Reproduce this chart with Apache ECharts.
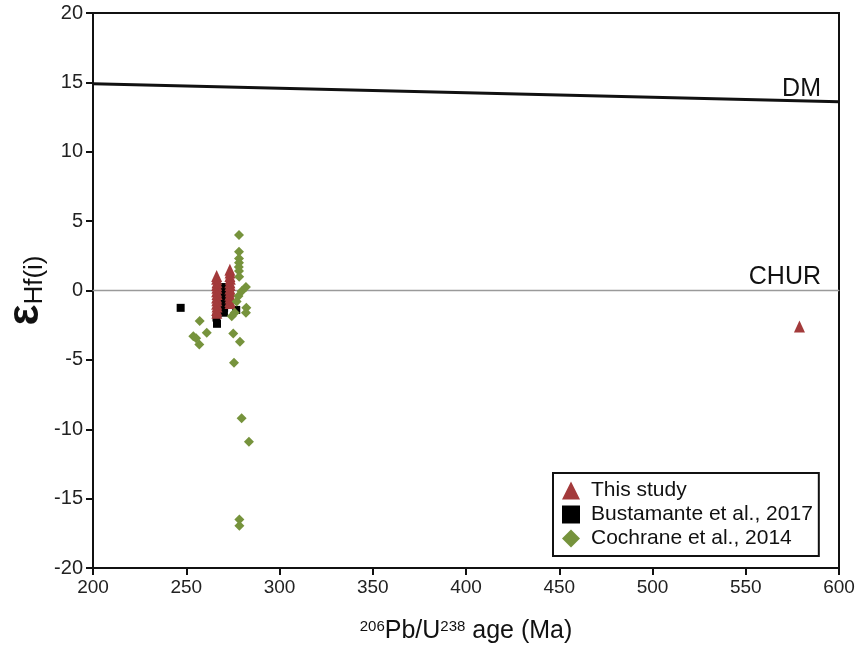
<!DOCTYPE html>
<html>
<head>
<meta charset="utf-8">
<script src="https://cdn.jsdelivr.net/npm/echarts@6/dist/echarts.min.js"></script>
<style>
html,body{margin:0;padding:0;background:#fff;}
#chart{width:858px;height:646px;}
</style>
</head>
<body>
<div id="chart"></div>
<script>
// ---- data ----
const seriesNames = ['This study', 'Bustamante et al., 2017', 'Cochrane et al., 2014'];

const thisStudy = [
  [266.3, 1.05], [266.3, 0.85], [266.5, 0.6], [266.3, 0.4], [266.4, 0.2], [266.3, -0.05],
  [266.5, -0.25], [266.3, -0.5], [266.4, -0.7], [266.3, -0.95], [266.5, -1.15], [266.3, -1.4], [266.4, -1.6],
  [273.4, 1.5], [273.5, 1.3], [273.4, 1.05], [273.6, 0.85], [273.4, 0.6], [273.5, 0.4], [273.4, 0.15],
  [273.6, -0.05], [273.4, -0.3], [273.5, -0.5], [273.4, -0.75], [273.5, -0.9],
  [578.8, -2.6]
];

const bustamante = [
  [247.0, -1.25], [266.5, -2.4], [266.2, -1.95], [266.8, -1.5],
  [270.0, 0.25], [270.0, -0.3], [270.1, -0.8], [270.3, -1.25], [270.2, -1.6],
  [276.8, -1.4]
];

const cochrane = [
  [278.3, 4.0], [278.3, 2.8], [278.3, 2.3], [278.3, 2.0], [278.2, 1.7], [278.3, 1.4], [278.4, 1.0],
  [282.0, 0.25], [279.7, -0.05], [278.0, -0.4], [277.0, -0.8], [282.2, -1.25], [282.0, -1.6],
  [274.4, -1.85], [276.0, -1.6],
  [257.2, -2.2], [261.0, -3.05], [253.8, -3.3], [255.3, -3.45], [257.0, -3.9],
  [275.2, -3.1], [278.8, -3.7], [275.6, -5.2], [279.7, -9.2], [283.6, -10.9],
  [278.5, -16.5], [278.5, -16.95]
];

const dmLine = [[200, 14.9], [600, 13.6]];
const churLine = [[200, 0], [600, 0]];
const refLabels = ['DM', 'CHUR'];

const xMin = 200, xMax = 600, xStep = 50;
const yMin = -20, yMax = 20, yStep = 5;

// ---- chart ----
const chart = echarts.init(document.getElementById('chart'), null, {renderer: 'canvas'});
const FONT = 'Liberation Sans, Arial, sans-serif';

function lineWithEndLabel(data, text, offset) {
  return data.map((p, i) => {
    if (i === data.length - 1) {
      return {
        value: p,
        label: {
          show: true, formatter: text, position: 'top', align: 'right',
          offset: offset, distance: 0,
          color: '#111', fontSize: 25, fontFamily: FONT
        }
      };
    }
    return {value: p};
  });
}

const option = {
  backgroundColor: '#fff',
  animation: false,
  grid: {
    left: 93, top: 13, width: 746, height: 555,
    containLabel: false, outerBoundsMode: 'none',
    show: true, borderColor: '#111', borderWidth: 2, backgroundColor: 'transparent'
  },
  legend: {
    data: seriesNames,
    orient: 'vertical',
    left: 553, top: 473,
    backgroundColor: '#fff',
    borderColor: '#111', borderWidth: 2,
    padding: [7, 6, 7, 9],
    itemWidth: 18, itemHeight: 18, itemGap: 3,
    textStyle: {color: '#111', fontSize: 21, fontFamily: FONT, padding: [0, 0, 0, 6]}
  },
  xAxis: {
    type: 'value', min: xMin, max: xMax, interval: xStep,
    name: '{sup|206}{n|Pb/U}{sup|238}{n| age (Ma)}',
    nameLocation: 'middle', nameGap: 51, nameMoveOverlap: false,
    nameTextStyle: {
      rich: {
        n: {fontSize: 25, fontFamily: FONT, color: '#111', verticalAlign: 'bottom'},
        sup: {fontSize: 15, fontFamily: FONT, color: '#111', verticalAlign: 'top'}
      }
    },
    axisLine: {show: true, onZero: false, lineStyle: {color: '#111', width: 2}},
    axisTick: {show: true, inside: false, length: 7, lineStyle: {color: '#111', width: 2}},
    axisLabel: {color: '#222', fontSize: 19, fontFamily: FONT, margin: 10},
    splitLine: {show: false}
  },
  yAxis: {
    type: 'value', min: yMin, max: yMax, interval: yStep,
    name: '{e|ε}{s|Hf(i)}',
    nameLocation: 'middle', nameGap: 45, nameRotate: 90, nameMoveOverlap: false,
    nameTextStyle: {
      rich: {
        e: {fontSize: 44, fontFamily: FONT, color: '#111', fontWeight: 'bold', verticalAlign: 'bottom'},
        s: {fontSize: 26, fontFamily: FONT, color: '#111', verticalAlign: 'bottom'}
      }
    },
    axisLine: {show: true, onZero: false, lineStyle: {color: '#111', width: 2}},
    axisTick: {show: true, inside: false, length: 7, lineStyle: {color: '#111', width: 2}},
    axisLabel: {color: '#222', fontSize: 20, fontFamily: FONT, margin: 10},
    splitLine: {show: false}
  },
  series: [
    {
      name: 'DM-line', type: 'line', data: lineWithEndLabel(dmLine, refLabels[0], [-18, 0]),
      showSymbol: true, symbol: 'circle', symbolSize: 1,
      itemStyle: {color: '#111'},
      lineStyle: {color: '#111', width: 3}, z: 1, silent: true
    },
    {
      name: 'CHUR-line', type: 'line', data: lineWithEndLabel(churLine, refLabels[1], [-18, 0]),
      showSymbol: true, symbol: 'circle', symbolSize: 1,
      itemStyle: {color: '#999'},
      lineStyle: {color: '#9a9a9a', width: 1.5}, z: 1, silent: true
    },
    {
      name: seriesNames[1], type: 'scatter', data: bustamante,
      symbol: 'rect', symbolSize: 8, itemStyle: {color: '#000', opacity: 1}, z: 2
    },
    {
      name: seriesNames[0], type: 'scatter', data: thisStudy,
      symbol: 'triangle', symbolSize: [11, 12], itemStyle: {color: '#a33a3b', opacity: 1}, z: 3
    },
    {
      name: seriesNames[2], type: 'scatter', data: cochrane,
      symbol: 'diamond', symbolSize: 10, itemStyle: {color: '#76933c', opacity: 1}, z: 4
    }
  ]
};
chart.setOption(option);
</script>
</body>
</html>
